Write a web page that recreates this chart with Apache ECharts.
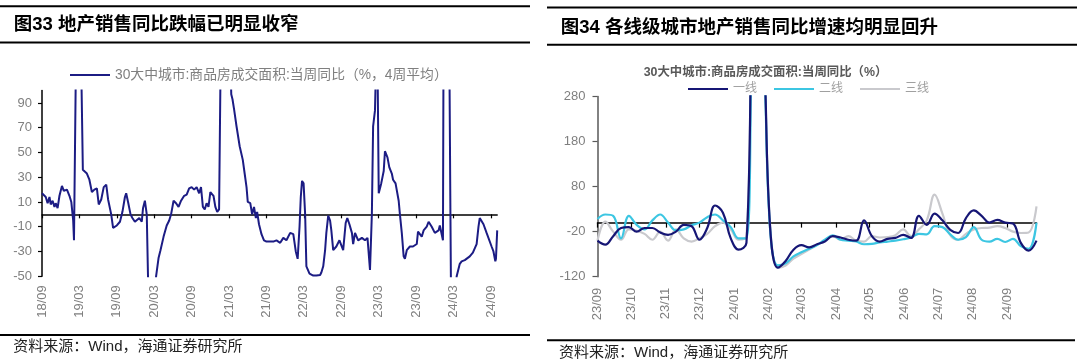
<!DOCTYPE html>
<html><head><meta charset="utf-8">
<script src="https://cdn.jsdelivr.net/npm/echarts@6/dist/echarts.min.js"></script>
<style>html,body{margin:0;padding:0;background:#fff}#c{width:1080px;height:364px}</style>
</head><body><div id="c"></div>
<script>
const FONT = '"Liberation Sans", "Noto Sans CJK SC", sans-serif';

// ---------- left chart data ----------
const leftName = '30大中城市:商品房成交面积:当周同比（%，4周平均）';
const leftTickLabels = ['18/09','19/03','19/09','20/03','20/09','21/03','21/09','22/03','22/09','23/03','23/09','24/03','24/09'];
const leftYTicks = [-50,-30,-10,10,30,50,70,90];
// months since 2018-09
const leftMonths = [0,0.3,0.6,0.9,1.2,1.4,1.7,2.0,2.2,2.5,2.8,3.2,3.5,4.0,4.4,4.7,5.0,5.13,5.5,6.2,6.55,7.2,7.6,8.0,8.4,8.8,9.1,9.5,9.9,10.3,10.6,11.1,11.4,12.0,12.5,12.9,13.3,13.5,13.8,14.2,14.5,14.9,15.2,15.6,16.0,16.2,16.5,16.8,17.0,17.3,17.9,18.3,18.7,19.0,19.5,20.0,20.4,20.7,21.1,21.5,21.9,22.3,22.8,23.2,23.6,24.0,24.4,24.8,25.2,25.5,25.8,26.1,26.4,26.7,27.0,27.3,27.5,27.8,28.1,28.4,28.7,30.1,30.35,30.55,30.8,31.2,31.7,32.2,32.5,32.8,33.0,33.4,33.7,34.0,34.3,34.5,34.8,35.2,35.6,36.0,36.6,
  37.1,37.6,38.2,38.7,39.2,39.8,40.3,40.7,41.0,41.3,41.5,41.7,41.95,42.2,42.4,42.9,43.5,44.0,44.6,44.8,45.1,45.4,45.6,45.9,46.2,46.4,46.7,47.2,47.7,48.0,48.3,48.7,48.96,49.3,49.7,49.9,50.2,50.7,51.3,51.8,52.2,52.6,52.9,53.1,53.4,53.7,53.85,54.0,54.4,54.8,55.0,55.4,55.7,56.1,56.3,56.7,57.0,57.2,57.4,57.7,58.0,58.2,58.5,59.0,59.5,60.1,60.3,60.9,61.2,61.7,62.0,62.5,63.0,63.6,63.8,64.1,64.3,64.4,65.3,65.5,65.6,66.3,66.5,67.0,67.3,67.8,68.1,68.6,69.1,69.7,70.0,70.2,70.8,71.3,71.6,72.1,72.4,72.7,72.8,73.0];
const leftValues = [17,17,14,9,14,8,11,6,9,5,15,23,19,20,15,10,-5,-21,150,150,36,33,28,18,20,21,8,12,22,24,12,0,-11,-9,-6,2,14,17,10,0,-3,-6,-5,-3,-6,5,11,0,-50,-70,-75,-50,-35,-29,-18,-9,-5,0,11,9,6,11,15,16,21,22,20,22,17,22,6,4,9,6,18,19,15,6,2,4,150,150,97,93,85,71,55,44,33,22,10,9,0,6,-3,2,-8,-16,-21,-22,-22,
  -22,-21,-23,-19,-21,-15,-16,-30,-36,-10,14,27,25,0,-42,-48,-49.5,-49.5,-49,-47,-42,-29,-15,-1,-5,-13,-29,-26,-21,-20,-29,-7,-3,-8,-15,-24,-15,-21,-19,-21,-19,-45,0,71,84,150,100,17,25,35,51,46,38,33,28,25,24,11,0,-15,-34,-36,-29,-26,-26,-24,-14,-18,-13,-10,-6,-10,-15,-13,-9,-10,-21,150,150,0,-70,-70,-50,-40,-38,-37,-36,-34,-31,-24,-10,-3,-8,-15,-16,-26,-30,-38,-36,-13];

// ---------- right chart data ----------
const rightTitle = '30大中城市:商品房成交面积:当周同比（%）';
const rightTickLabels = ['23/09','23/10','23/11','23/12','24/01','24/02','24/03','24/04','24/05','24/06','24/07','24/08','24/09'];
const rightYTicks = [-120,-20,80,180,280];
const rightDates = ['2023-09-01','2023-09-08','2023-09-15','2023-09-22','2023-09-29','2023-10-06','2023-10-13','2023-10-20','2023-10-27','2023-11-03','2023-11-10','2023-11-17','2023-11-24','2023-12-01','2023-12-08','2023-12-15','2023-12-22','2023-12-29','2024-01-05','2024-01-12','2024-01-19','2024-01-26','2024-02-02','2024-02-09','2024-02-16','2024-02-23','2024-03-01','2024-03-08','2024-03-15','2024-03-22','2024-03-29','2024-04-05','2024-04-12','2024-04-19','2024-04-26','2024-05-03','2024-05-10','2024-05-17','2024-05-24','2024-05-31','2024-06-07','2024-06-14','2024-06-21','2024-06-28','2024-07-05','2024-07-12','2024-07-19','2024-07-26','2024-08-02','2024-08-09','2024-08-16','2024-08-23','2024-08-30','2024-09-06','2024-09-13','2024-09-20','2024-09-27'];
const tier1 = [-40,-49,-30,-12,-10,-20,-12,-12,-22,-27,-20,-5,-8,-38,-12,38,22,-35,-60,-45,500,450,-5,-100,-85,-60,-50,-55,-48,-42,-30,-33,-38,-40,5,-30,-42,-36,-34,-27,-34,15,-5,20,5,-16,-23,10,27,15,0,6,0,-2,-45,-62,-40];
const tier2 = [8,18,15,-35,15,-5,-15,5,18,0,-17,-15,-6,0,12,18,5,-10,-35,-35,480,430,-10,-95,-90,-75,-66,-58,-50,-38,-28,-38,-40,-42,-48,-47,-44,-42,-40,-37,-33,-25,-26,-8,-10,-26,-38,-32,-10,-38,-42,-36,-43,-36,-52,-58,0];
const tier3 = [-40,2,-20,-38,-15,-18,-25,-38,-20,-40,-15,-35,-42,-35,-25,-8,0,-15,-38,-30,450,420,0,-100,-95,-80,-70,-60,-50,-40,-30,-38,-30,-40,-42,-30,-33,-32,-28,-15,-30,-15,5,62,20,-28,-38,-25,-15,-12,-11,-8,-12,-20,-23,-22,36];

// ---------- build ----------
const DAY = 86400000;
const T0 = Date.UTC(2023, 8, 1);
const dayOf = s => { const p = s.split('-').map(Number); return (Date.UTC(p[0], p[1]-1, p[2]) - T0) / DAY; };
const rightX = rightDates.map(dayOf);
const rightTickValues = rightTickLabels.map(s => (Date.UTC(2000 + Number(s.slice(0,2)), Number(s.slice(3)) - 1, 1) - T0) / DAY);
const leftTickValues = leftTickLabels.map((s, i) => i * 6);

const zip = (xs, ys) => xs.map((x, i) => [x, ys[i]]);

const labelStyle = { color: '#7f7f7f', fontSize: 13, fontFamily: FONT };

const chart = echarts.init(document.getElementById('c'));
chart.setOption({
  animation: false,
  grid: [
    { left: 42, right: 582.8, top: 90.6, bottom: 87.8 },
    { left: 597.5, right: 43.5, top: 96.4, bottom: 87.3 }
  ],
  legend: [
    { data: [leftName], left: 70, top: 68, padding: 0, icon: 'rect', itemWidth: 40, itemHeight: 2, itemGap: 10,
      textStyle: { color: '#7f7f7f', fontSize: 13.8, fontFamily: FONT } },
    { data: ['一线','二线','三线'], left: 688, top: 83, padding: 0, icon: 'rect', itemWidth: 40, itemHeight: 2.2, itemGap: 17,
      textStyle: { color: '#a0a0a0', fontSize: 12, fontFamily: FONT } }
  ],
  xAxis: [
    { gridIndex: 0, type: 'value', min: 0, max: 73, position: 'bottom',
      axisLine: { show: false, onZero: false }, axisTick: { show: false }, splitLine: { show: false },
      axisLabel: Object.assign({ rotate: 90, margin: 9, customValues: leftTickValues,
        formatter: v => leftTickLabels[Math.round(v / 6)] }, labelStyle) },
    { gridIndex: 0, type: 'value', min: 0, max: 73, position: 'top',
      axisLine: { show: true, onZero: true, lineStyle: { color: '#000', width: 1.5 } },
      axisTick: { show: true, inside: true, length: 4, customValues: leftTickValues, lineStyle: { color: '#000', width: 1.2 } },
      axisLabel: { show: false }, splitLine: { show: false } },
    { gridIndex: 1, type: 'value', min: 0, max: 392, position: 'bottom',
      axisLine: { show: false, onZero: false }, axisTick: { show: false }, splitLine: { show: false },
      axisLabel: Object.assign({ rotate: 90, margin: 11, customValues: rightTickValues,
        formatter: v => { const i = rightTickValues.findIndex(t => Math.abs(t - v) < 0.5); return i >= 0 ? rightTickLabels[i] : ''; } }, labelStyle) },
    { gridIndex: 1, type: 'value', min: 0, max: 392, position: 'top',
      axisLine: { show: true, onZero: true, lineStyle: { color: '#000', width: 1.5 } },
      axisTick: { show: true, inside: true, length: 5, customValues: rightTickValues, lineStyle: { color: '#000', width: 1.2 } },
      axisLabel: { show: false }, splitLine: { show: false } }
  ],
  yAxis: [
    { gridIndex: 0, type: 'value', min: -50, max: 100,
      axisLine: { show: true, onZero: false, lineStyle: { color: '#000', width: 1.5 } },
      axisTick: { show: true, length: 4, customValues: leftYTicks, lineStyle: { color: '#000', width: 1.2 } },
      axisLabel: Object.assign({ margin: 10, customValues: leftYTicks }, labelStyle),
      splitLine: { show: false } },
    { gridIndex: 1, type: 'value', min: -120, max: 280,
      axisLine: { show: true, onZero: false, lineStyle: { color: '#595959', width: 1.5 } },
      axisTick: { show: true, length: 5, customValues: rightYTicks, lineStyle: { color: '#595959', width: 1.2 } },
      axisLabel: Object.assign({ margin: 12, customValues: rightYTicks }, labelStyle),
      splitLine: { show: false } }
  ],
  series: [
    { name: leftName, type: 'line', xAxisIndex: 0, yAxisIndex: 0, data: zip(leftMonths, leftValues),
      symbol: 'none', clip: true, lineStyle: { color: '#1c1c84', width: 2 }, itemStyle: { color: '#1c1c84' }, z: 3 },
    { name: '一线', type: 'line', xAxisIndex: 2, yAxisIndex: 1, data: zip(rightX, tier1), smooth: 0.4,
      symbol: 'none', clip: true, lineStyle: { color: '#161675', width: 2.2 }, itemStyle: { color: '#161675' }, z: 5 },
    { name: '二线', type: 'line', xAxisIndex: 2, yAxisIndex: 1, data: zip(rightX, tier2), smooth: 0.4,
      symbol: 'none', clip: true, lineStyle: { color: '#3cc6e2', width: 2.2 }, itemStyle: { color: '#3cc6e2' }, z: 4 },
    { name: '三线', type: 'line', xAxisIndex: 2, yAxisIndex: 1, data: zip(rightX, tier3), smooth: 0.4,
      symbol: 'none', clip: true, lineStyle: { color: '#c9c9cd', width: 2.2 }, itemStyle: { color: '#c9c9cd' }, z: 3 }
  ],
  graphic: [
    { type: 'rect', shape: { x: 0, y: 5.2, width: 530, height: 2 }, style: { fill: '#000' } },
    { type: 'rect', shape: { x: 0, y: 41.4, width: 530, height: 2 }, style: { fill: '#000' } },
    { type: 'rect', shape: { x: 0, y: 334, width: 530, height: 2 }, style: { fill: '#000' } },
    { type: 'rect', shape: { x: 547, y: 6.6, width: 530, height: 2 }, style: { fill: '#000' } },
    { type: 'rect', shape: { x: 547, y: 43.8, width: 530, height: 2 }, style: { fill: '#000' } },
    { type: 'rect', shape: { x: 547, y: 339.2, width: 528, height: 2 }, style: { fill: '#000' } },
    { type: 'text', x: 13.8, y: 24.8, style: { text: '图33 地产销售同比跌幅已明显收窄', fill: '#000', font: 'bold 18.5px ' + FONT, verticalAlign: 'middle', align: 'left' } },
    { type: 'text', x: 560.7, y: 27.5, style: { text: '图34 各线级城市地产销售同比增速均明显回升', fill: '#000', font: 'bold 18.5px ' + FONT, verticalAlign: 'middle', align: 'left' } },
    { type: 'text', x: 765.5, y: 73, style: { text: rightTitle, fill: '#595959', font: 'bold 12.4px ' + FONT, verticalAlign: 'middle', align: 'center' } },
    { type: 'text', x: 13.3, y: 347, style: { text: '资料来源：Wind，海通证券研究所', fill: '#222', font: '15px ' + FONT, verticalAlign: 'middle', align: 'left' } },
    { type: 'text', x: 559, y: 353.3, style: { text: '资料来源：Wind，海通证券研究所', fill: '#222', font: '15px ' + FONT, verticalAlign: 'middle', align: 'left' } }
  ]
});
</script></body></html>
